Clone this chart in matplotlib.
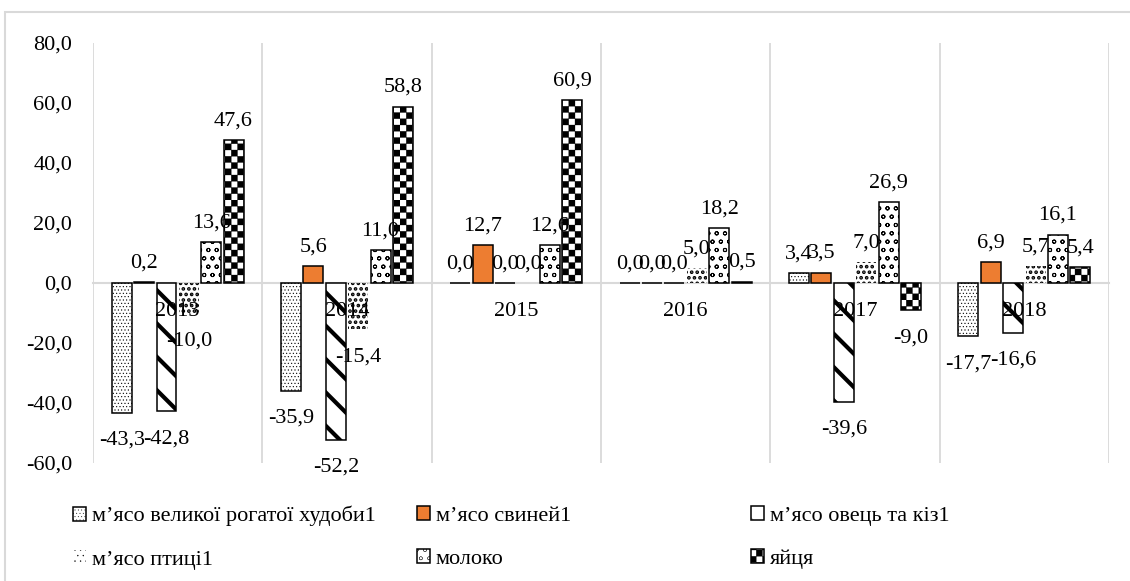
import numpy as np
import matplotlib
matplotlib.use("Agg")
import matplotlib.pyplot as plt
import matplotlib.hatch as mhatch
from matplotlib.path import Path
from matplotlib.patches import Rectangle

years = ["2013", "2014", "2015", "2016", "2017", "2018"]
series_names = ["м’ясо великої рогатої худоби1", "м’ясо свиней1", "м’ясо овець та кіз1",
                "м’ясо птиці1", "молоко", "яйця"]
cattle = [-43.3, -35.9, 0.0, 0.0, 3.4, -17.7]
pork = [0.2, 5.6, 12.7, 0.0, 3.5, 6.9]
sheep = [-42.8, -52.2, 0.0, 0.0, -39.6, -16.6]
poultry = [-10.0, -15.4, 0.0, 5.0, 7.0, 5.7]
milk = [13.6, 11.0, 12.6, 18.2, 26.9, 16.1]
eggs = [47.6, 58.8, 60.9, 0.5, -9.0, 5.4]
yticks = [-60, -40, -20, 0, 20, 40, 60, 80]


# checkerboard hatch (Excel "large checker board"), takes the place of '*'
class CheckerHatch(mhatch.HatchPatternBase):
    def __init__(self, hatch, density):
        self.n = 16 * hatch.count('*')
        self.cells = [(i, j) for i in range(self.n) for j in range(self.n) if (i + j) % 2 == 0]
        self.num_vertices = len(self.cells) * 5

    def set_vertices_and_codes(self, vertices, codes):
        s = 1.0 / self.n
        sq = np.array([[0, 0], [1, 0], [1, 1], [0, 1], [0, 0]], dtype=float) * s
        cc = [Path.MOVETO, Path.LINETO, Path.LINETO, Path.LINETO, Path.CLOSEPOLY]
        for k, (i, j) in enumerate(self.cells):
            vertices[k * 5:(k + 1) * 5] = sq + [i * s, j * s]
            codes[k * 5:(k + 1) * 5] = cc


mhatch._hatch_types = [CheckerHatch if t is mhatch.Stars else t for t in mhatch._hatch_types]

plt.rcParams['font.family'] = ['Liberation Serif', 'DejaVu Serif']
plt.rcParams['font.size'] = 16

fig = plt.figure(figsize=(11.3, 5.81), dpi=100)
ax = fig.add_axes([93 / 1130, 1 - 463 / 581, (1109 - 93) / 1130, (463 - 43) / 581])

# frame around the chart area
fig.patches.append(Rectangle((5 / 1130, -0.1), 1.2, 1.1 - 12 / 581, transform=fig.transFigure,
                             fill=False, edgecolor='#D9D9D9', linewidth=1.5))

data = [cattle, pork, sheep, poultry, milk, eggs]
styles = [
    dict(facecolor='white', hatch='.....', lw=1.1, hlw=0.4),
    dict(facecolor='#ED7D31', hatch=None, lw=1.1, hlw=1.0),
    dict(facecolor='white', hatch='\\', lw=1.1, hlw=3.0),
    dict(facecolor='white', hatch='...', lw=0.0, hlw=1.8),
    dict(facecolor='white', hatch='oo', lw=1.1, hlw=0.7),
    dict(facecolor='white', hatch='*', lw=1.1, hlw=0.2),
]

x = np.arange(len(years))
step = 0.132
width = 0.118
handles = []
for k, (vals, st) in enumerate(zip(data, styles)):
    pos = x + (k - 2.5) * step
    plt.rcParams['hatch.linewidth'] = st['hlw']
    bars = ax.bar(pos, vals, width, facecolor=st['facecolor'], edgecolor='black',
                  linewidth=st['lw'], hatch=st['hatch'], label=series_names[k], zorder=3)
    for p in bars:
        if hasattr(p, 'set_hatch_linewidth'):
            p.set_hatch_linewidth(st['hlw'])
    handles.append(bars)
    for xp, v in zip(pos, vals):
        lab = f"{v:.1f}".replace('.', ',')
        if v >= 0:
            ax.annotate(lab, (xp, v), xytext=(0, 7), textcoords='offset points',
                        ha='center', va='bottom', fontsize=16, zorder=5)
        else:
            ax.annotate(lab, (xp, v), xytext=(0, -13), textcoords='offset points',
                        ha='center', va='top', fontsize=16, zorder=5)

# category labels sit just under the zero line, on top of the bars
for xi, yr in zip(x, years):
    ax.annotate(yr, (xi, 0), xytext=(0, -14), textcoords='offset points',
                ha='center', va='top', fontsize=16, zorder=6)

ax.set_xlim(-0.5, len(years) - 0.5)
ax.set_ylim(-60, 80)
ax.set_yticks(yticks)
ax.set_yticklabels([f"{v:.1f}".replace('.', ',') for v in yticks])
ax.set_xticks(np.arange(-0.5, len(years)))
ax.set_xticklabels([])
ax.tick_params(axis='x', length=0)
ax.tick_params(axis='y', length=0, pad=15)
ax.grid(axis='x', color='#D9D9D9', linewidth=1.3)
ax.set_axisbelow(True)
for s in ['top', 'right', 'left']:
    ax.spines[s].set_visible(False)
ax.spines['bottom'].set_position(('data', 0))
ax.spines['bottom'].set_color('#D9D9D9')
ax.spines['bottom'].set_linewidth(1.5)
ax.spines['bottom'].set_zorder(2)

# legend: three equal-width columns as in the original
cols = [(0, 3), (1, 4), (2, 5)]
col_x = [73, 417, 751]
for (a, b), cx in zip(cols, col_x):
    leg = fig.legend([handles[a], handles[b]], [series_names[a], series_names[b]],
                     loc='upper left', bbox_to_anchor=(cx / 1130, 1 - 506 / 581),
                     frameon=False, borderpad=0, borderaxespad=0, handlelength=0.6,
                     handleheight=0.6, handletextpad=0.25, labelspacing=1.05, fontsize=16)

fig.savefig("out.png", dpi=100)
